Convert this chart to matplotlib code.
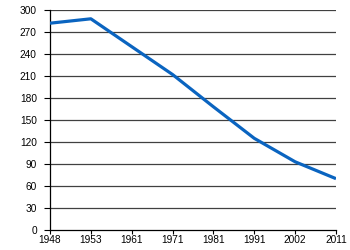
import matplotlib
matplotlib.use("Agg")
import matplotlib.pyplot as plt

years = ["1948", "1953", "1961", "1971", "1981", "1991", "2002", "2011"]
values = [282, 288, 250, 212, 168, 125, 93, 70]
yticks = list(range(0, 301, 30))

plt.rcParams['font.family'] = ['Liberation Sans', 'DejaVu Sans']
fig = plt.figure(figsize=(3.5, 2.5), dpi=100)
ax = fig.add_axes([50/350, 20/250, 286/350, 220/250])
x = list(range(len(years)))
ax.plot(x, values, color='#0a64c0', lw=2.3, solid_capstyle='butt', zorder=3)
ax.set_xlim(0, len(years) - 1)
ax.set_ylim(0, 300)
ax.set_xticks(x)
ax.set_xticklabels(years)
ax.set_yticks(yticks)
for t in yticks[1:]:
    ax.axhline(t, color='#404040', lw=0.9, zorder=1)
for s in ['top', 'right']:
    ax.spines[s].set_visible(False)
for s in ['left', 'bottom']:
    ax.spines[s].set_color('black')
    ax.spines[s].set_linewidth(0.9)
ax.tick_params(axis='both', labelsize=7.3, width=0.8, color='black')
ax.tick_params(axis='x', length=3, pad=0.5)
ax.tick_params(axis='y', length=4.5, pad=5)
fig.savefig("out.png", dpi=100)
